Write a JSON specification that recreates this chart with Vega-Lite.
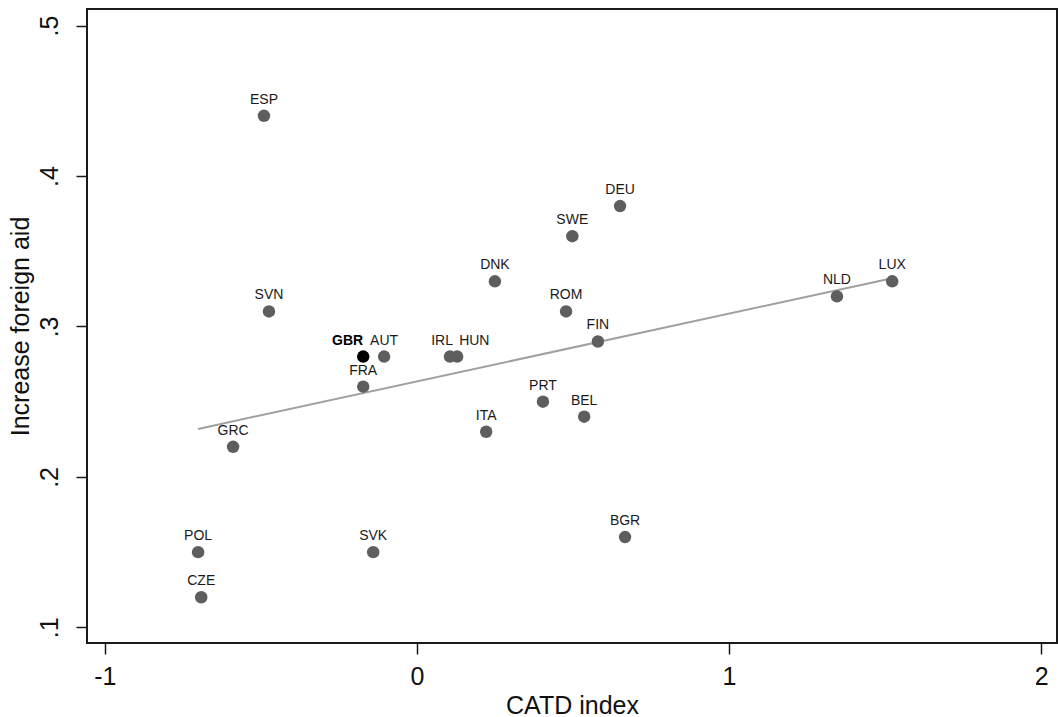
{
  "$schema": "https://vega.github.io/schema/vega-lite/v6.json",
  "width": 970,
  "height": 634,
  "autosize": {"type": "none"},
  "padding": {"left": 87, "top": 9, "right": 1, "bottom": 74},
  "background": "white",
  "config": {
    "font": "Liberation Sans",
    "view": {"stroke": "#1a1a1a", "strokeWidth": 2},
    "axis": {"grid": false, "domain": false, "tickColor": "#1a1a1a", "tickWidth": 1.5, "tickSize": 11,
      "labelFont": "Liberation Sans", "titleFont": "Liberation Sans", "labelFontSize": 25, "titleFontSize": 25,
      "labelColor": "#111", "titleColor": "#111", "titleFontWeight": "normal"}
  },
  "data": {"values": [
    {"country": "ESP", "catd": -0.49, "aid": 0.44},
    {"country": "DEU", "catd": 0.651, "aid": 0.38},
    {"country": "SWE", "catd": 0.498, "aid": 0.36},
    {"country": "DNK", "catd": 0.25, "aid": 0.33},
    {"country": "ROM", "catd": 0.478, "aid": 0.31},
    {"country": "SVN", "catd": -0.474, "aid": 0.31},
    {"country": "FIN", "catd": 0.58, "aid": 0.29},
    {"country": "NLD", "catd": 1.346, "aid": 0.32},
    {"country": "LUX", "catd": 1.523, "aid": 0.33},
    {"country": "GBR", "catd": -0.172, "aid": 0.28},
    {"country": "AUT", "catd": -0.105, "aid": 0.28},
    {"country": "IRL", "catd": 0.106, "aid": 0.28},
    {"country": "HUN", "catd": 0.129, "aid": 0.28},
    {"country": "FRA", "catd": -0.172, "aid": 0.26},
    {"country": "PRT", "catd": 0.404, "aid": 0.25},
    {"country": "BEL", "catd": 0.536, "aid": 0.24},
    {"country": "ITA", "catd": 0.222, "aid": 0.23},
    {"country": "GRC", "catd": -0.589, "aid": 0.22},
    {"country": "BGR", "catd": 0.667, "aid": 0.16},
    {"country": "POL", "catd": -0.701, "aid": 0.15},
    {"country": "SVK", "catd": -0.14, "aid": 0.15},
    {"country": "CZE", "catd": -0.691, "aid": 0.12}
  ]},
  "encoding": {
    "x": {"field": "catd", "type": "quantitative", "title": "CATD index",
      "scale": {"domain": [-1.057, 2.051], "nice": false, "zero": false},
      "axis": {"values": [-1, 0, 1, 2], "labelExpr": "toString(datum.value)", "labelPadding": 10, "titlePadding": 4}},
    "y": {"field": "aid", "type": "quantitative", "title": "Increase foreign aid",
      "scale": {"domain": [0.0896, 0.511], "nice": false, "zero": false},
      "axis": {"values": [0.1, 0.2, 0.3, 0.4, 0.5], "labelExpr": "replace(format(datum.value, '.1f'), '0.', '.')",
        "labelAngle": -90, "labelAlign": "center", "labelBaseline": "bottom", "labelPadding": 14, "titlePadding": 4}}
  },
  "layer": [
    {
      "transform": [{"regression": "aid", "on": "catd"}],
      "mark": {"type": "line", "color": "#a0a0a0", "strokeWidth": 2}
    },
    {
      "mark": {"type": "circle", "size": 155, "opacity": 1},
      "encoding": {
        "color": {"condition": {"test": "datum.country === 'GBR'", "value": "#000000"}, "value": "#5e5e5e"}
      }
    },
    {
      "transform": [{"filter": "datum.country !== 'GBR' && datum.country !== 'IRL' && datum.country !== 'HUN'"}],
      "mark": {"type": "text", "fontSize": 14, "color": "#1a1a1a", "align": "center", "baseline": "alphabetic", "dy": -12},
      "encoding": {"text": {"field": "country"}}
    },
    {
      "transform": [{"filter": "datum.country === 'GBR'"}],
      "mark": {"type": "text", "fontSize": 14, "fontWeight": "bold", "color": "#000", "align": "right", "baseline": "alphabetic", "dy": -12, "dx": 0},
      "encoding": {"text": {"field": "country"}}
    },
    {
      "transform": [{"filter": "datum.country === 'IRL'"}],
      "mark": {"type": "text", "fontSize": 14, "color": "#1a1a1a", "align": "right", "baseline": "alphabetic", "dy": -12, "dx": 3},
      "encoding": {"text": {"field": "country"}}
    },
    {
      "transform": [{"filter": "datum.country === 'HUN'"}],
      "mark": {"type": "text", "fontSize": 14, "color": "#1a1a1a", "align": "left", "baseline": "alphabetic", "dy": -12, "dx": 2},
      "encoding": {"text": {"field": "country"}}
    }
  ]
}
